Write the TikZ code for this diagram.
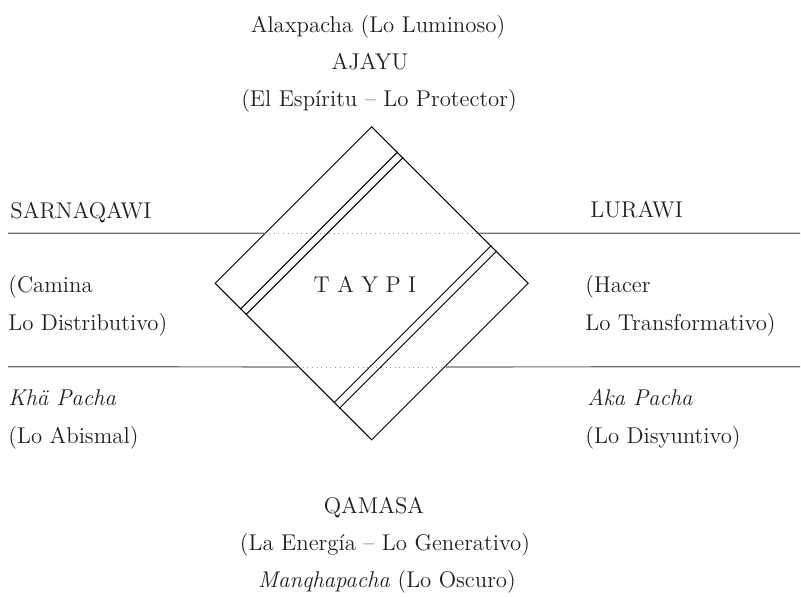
\documentclass[tikz,border=0pt]{standalone}
\usepackage{fontspec}
\usepackage{tikz}
\usetikzlibrary{positioning, shapes.geometric, calc}
\definecolor{InkGray}{RGB}{35, 31, 32}
\definecolor{RuleGray}{RGB}{110, 110, 110}

\begin{document}
\begin{tikzpicture}[x=0.5pt, y=-0.5pt,
    txt/.style={inner sep=0pt, text=InkGray, font=\fontsize{11.4pt}{14pt}\selectfont},
    rule/.style={RuleGray, line width=0.6pt},
    ruledot/.style={RuleGray!70, line width=0.3pt, dotted}]
                \useasboundingbox (0,0) rectangle (801,596);

                % Horizontal rules
                \coordinate (upL) at (8,233.3);
                \coordinate (upR) at (800,233.3);
                \coordinate (loL) at (8,366.7);
                \coordinate (loR) at (800,366.7);

                % Diamond
                \node[draw=black, line width=0.5pt, shape=diamond, aspect=1, inner sep=0pt,
                      minimum width=156.7pt, minimum height=156.7pt] (taypi) at (371.7,283.3) {};
                \coordinate (up1) at ($(taypi.west)!0.319!(taypi.north)$);
                \coordinate (up2) at ($(taypi.east)!0.319!(taypi.north)$);
                \coordinate (lo1) at ($(taypi.west)!0.532!(taypi.south)$);
                \coordinate (lo2) at ($(taypi.east)!0.532!(taypi.south)$);

                \draw[rule] (upL) -- (up1);
                \draw[ruledot] (up1) -- (up2);
                \draw[rule] (up2) -- (upR);
                \draw[rule] (loL) -- (lo1);
                \draw[ruledot] (lo1) -- (lo2);
                \draw[rule] (lo2) -- (loR);

                % Bands
                \foreach \f in {0.165, 0.2, 0.76, 0.795}
                    \draw[line width=0.5pt] ($(taypi.north)!\f!(taypi.east)$) -- ($(taypi.west)!\f!(taypi.south)$);

                \node[txt, anchor=base] (center) at (365,292.7) {T A Y P I};

                % Top labels
                \node[txt, anchor=base] (alax) at (378,32) {Alaxpacha (Lo Luminoso)};
                \node[txt, anchor=base] (ajayu) at (370,69) {AJAYU};
                \node[txt, anchor=base] (espiritu) at (379,106) {(El Espíritu – Lo Protector)};

                % Left labels
                \node[txt, anchor=base west] (sarna) at (10,218.3) {SARNAQAWI};
                \node[txt, anchor=base west] (camina) at (8,292.7) {(Camina};
                \node[txt, anchor=base west] (distrib) at (8,330) {Lo Distributivo)};
                \node[txt, anchor=base west] (kha) at (8,405) {\itshape Khä Pacha};
                \node[txt, anchor=base west] (abismal) at (8,443.3) {(Lo Abismal)};

                % Right labels
                \node[txt, anchor=base west] (lurawi) at (590,217.5) {LURAWI};
                \node[txt, anchor=base west] (hacer) at (585,292.7) {(Hacer};
                \node[txt, anchor=base west] (transf) at (585,330) {Lo Transformativo)};
                \node[txt, anchor=base west] (aka) at (587,405) {\itshape Aka Pacha};
                \node[txt, anchor=base west] (disy) at (585,443.3) {(Lo Disyuntivo)};

                % Bottom labels
                \node[txt, anchor=base] (qamasa) at (374,513) {QAMASA};
                \node[txt, anchor=base] (energia) at (385,550) {(La Energía – Lo Generativo)};
                \node[txt, anchor=base] (manq) at (387,587) {\textit{Manqhapacha} (Lo Oscuro)};
            \end{tikzpicture}
\end{document}
